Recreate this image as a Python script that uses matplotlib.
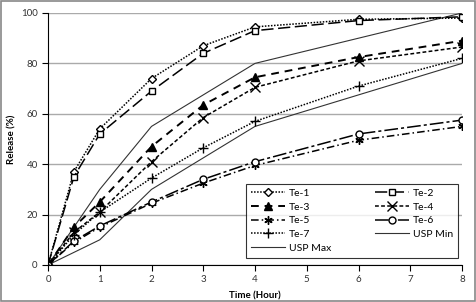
import matplotlib
matplotlib.use("Agg")
import matplotlib.pyplot as plt
from matplotlib.patches import Rectangle

plt.rcParams['font.family'] = ['Lato', 'DejaVu Sans']

time = [0, 0.5, 1, 2, 3, 4, 6, 8]
te1 = [0, 37, 54, 74, 87, 94.5, 97.5, 98]
te2 = [0, 35, 52, 69, 84, 93, 97, 98.5]
te3 = [0, 15, 25, 47, 63.5, 74.5, 82.5, 89]
te4 = [0, 13, 21, 41, 58.5, 70.5, 81, 86.5]
te5 = [0, 9, 15, 24.5, 32.5, 39.5, 49.5, 55]
te6 = [0, 9.5, 15.5, 25, 34, 41, 52, 57.5]
te7 = [0, 12, 21, 34.5, 46.5, 57, 71, 82]
usp_time = [0, 1, 2, 4, 8]
usp_min = [0, 10, 30, 55, 80]
usp_max = [0, 30, 55, 80, 100]
xticks = [0, 1, 2, 3, 4, 5, 6, 7, 8]
yticks = [0, 20, 40, 60, 80, 100]

fig = plt.figure(figsize=(4.76, 3.02), dpi=100)
ax = fig.add_axes([48/476, 37/302, 414/476, 252/302])
fig.patches.append(Rectangle((0.003, 0.004), 0.994, 0.992, transform=fig.transFigure,
                             fill=False, edgecolor='#888888', linewidth=1.2))

ms = 5
lw = 1.1
h = {}
h['Te-1'], = ax.plot(time, te1, linestyle=(0, (1, 1)), color='black', lw=lw, marker='D', ms=4.5,
        mfc='white', mec='black', label='Te-1', zorder=5)
h['Te-2'], = ax.plot(time, te2, linestyle=(0, (8, 3)), color='black', lw=lw, marker='s', ms=ms,
        mfc='white', mec='black', label='Te-2', zorder=5)
h['Te-3'], = ax.plot(time, te3, linestyle=(0, (4, 3)), color='black', lw=lw+0.3, marker='^', ms=ms+1,
        mfc='black', mec='black', label='Te-3', zorder=5)
h['Te-4'], = ax.plot(time, te4, linestyle=(0, (2.5, 1.5)), color='black', lw=lw, marker='x', ms=ms+2,
        mec='black', label='Te-4', zorder=5)
h['Te-5'], = ax.plot(time, te5, linestyle=(0, (5, 2, 1, 2)), color='black', lw=lw, marker=(6, 2, 0), ms=ms+1,
        mec='black', label='Te-5', zorder=5)
h['Te-6'], = ax.plot(time, te6, linestyle=(0, (9, 2, 2, 2)), color='black', lw=lw, marker='o', ms=ms,
        mfc='white', mec='black', label='Te-6', zorder=5)
h['Te-7'], = ax.plot(time, te7, linestyle=(0, (1, 1)), color='black', lw=lw, marker='+', ms=ms+2,
        mec='black', label='Te-7', zorder=5)
h['USP Min'], = ax.plot(usp_time, usp_min, color='#333333', lw=0.8, label='USP Min', zorder=4)
h['USP Max'], = ax.plot(usp_time, usp_max, color='#333333', lw=0.8, label='USP Max', zorder=4)

ax.set_xlim(0, 8)
ax.set_ylim(0, 100)
ax.set_xticks(xticks)
ax.set_yticks(yticks)
ax.yaxis.grid(True, color='#aaaaaa', lw=1)
ax.set_axisbelow(True)
for s in ['top', 'right']:
    ax.spines[s].set_visible(False)
ax.spines['left'].set_color('black')
ax.spines['bottom'].set_color('black')
ax.tick_params(axis='both', labelsize=7, length=4, width=0.8, colors='black')
ax.tick_params(axis='both', labelcolor='#333333')
ax.set_xlabel('Time (Hour)', fontsize=7, fontweight='bold')
ax.set_ylabel('Release (%)', fontsize=7, fontweight='bold')
ax.xaxis.set_label_coords(0.5, -0.105)
ax.yaxis.set_label_coords(-0.075, 0.5)

order = ['Te-1', 'Te-3', 'Te-5', 'Te-7', 'USP Max', 'Te-2', 'Te-4', 'Te-6', 'USP Min']
leg = ax.legend([h[k] for k in order], order, ncol=2, fontsize=7.5, loc='lower left',
                bbox_to_anchor=((246-48)/414, 0.028, (458-246)/414, 0.29),
                mode='expand', frameon=True, fancybox=False, edgecolor='black',
                handlelength=3.2, handletextpad=0.4, borderpad=0.5, labelspacing=0.42,
                columnspacing=1.0, borderaxespad=0)
leg.get_frame().set_linewidth(0.8)

fig.savefig('out.png', dpi=100)
